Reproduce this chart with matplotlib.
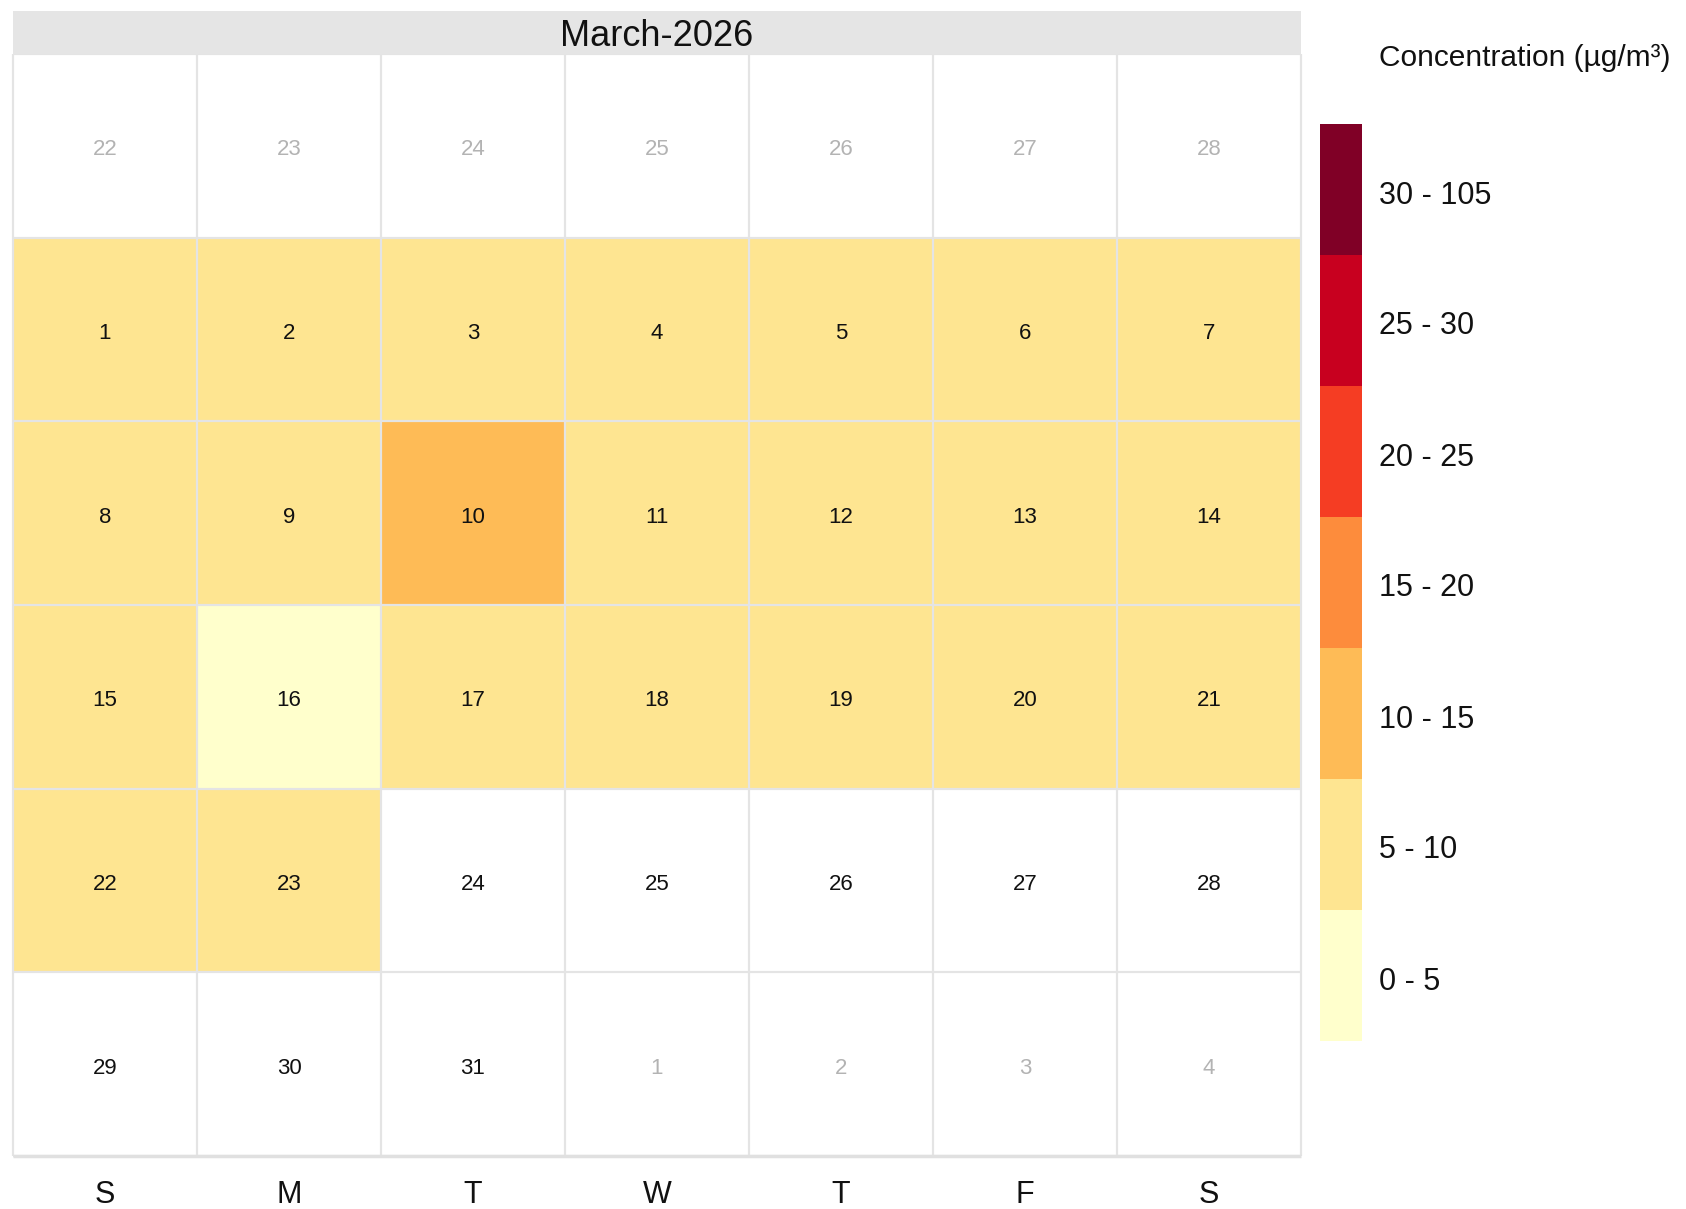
import numpy as np
import matplotlib.pyplot as plt
from matplotlib.colors import ListedColormap, BoundaryNorm
import datetime as dt

plt.rcParams['font.family'] = ['Liberation Sans', 'DejaVu Sans']

# daily mean concentration, March 2026 (nan = no data)
march_conc = [7.4, 6.8, 8.1, 7.6, 6.9, 8.3, 7.2,
              6.5, 7.9, 12.4, 8.8, 7.1, 6.6, 8.5,
              7.7, 3.9, 6.2, 8.0, 7.3, 6.9, 8.6,
              7.5, 6.4, np.nan, np.nan, np.nan, np.nan, np.nan,
              np.nan, np.nan, np.nan]
bin_edges = [0, 5, 10, 15, 20, 25, 30, 105]
bin_labels = ['0 - 5', '5 - 10', '10 - 15', '15 - 20', '20 - 25', '25 - 30', '30 - 105']
bin_colors = ['#ffffcc', '#fee591', '#febb56', '#fd8c3c', '#f53d23', '#c8001f', '#800026']
weekday_labels = ['S', 'M', 'T', 'W', 'T', 'F', 'S']
title = 'March-2026'
legend_title = 'Concentration (µg/m³)'

cmap = ListedColormap(bin_colors)
norm = BoundaryNorm(bin_edges, cmap.N)

# calendar grid: 6 weeks, always with at least one day of the previous month
month_start = dt.date(2026, 3, 1)
lead = (month_start.weekday() + 1) % 7
if lead == 0:
    lead = 7
grid_start = month_start - dt.timedelta(days=lead)
Z = np.full((6, 7), np.nan)
cells = []
for i in range(42):
    d = grid_start + dt.timedelta(days=i)
    r, c = divmod(i, 7)
    in_month = d.month == 3
    if in_month:
        Z[r, c] = march_conc[d.day - 1]
    cells.append((r, c, d.day, in_month))

W, H = 1686, 1209
fig = plt.figure(figsize=(W / 100, H / 100), dpi=100)

# calendar
x0, x1, y0, y1 = 13, 1301, 54, 1156
row_h = (y1 - y0) / 6
ax = fig.add_axes([x0 / W, 1 - y1 / H, (x1 - x0) / W, (y1 - y0) / H])
ax.pcolormesh(np.arange(8), np.arange(7), np.ma.masked_invalid(Z), cmap=cmap, norm=norm)
ax.set_xlim(0, 7)
ax.set_ylim(6, 0)
ax.vlines(np.arange(8), 0, 6, color='#e4e4e4', lw=1.6, clip_on=False)
ax.hlines(np.arange(7), 0, 7, color='#e4e4e4', lw=1.6, clip_on=False)
ax.hlines(6, 0, 7, color='#e0e0e0', lw=2.5, clip_on=False)
for r, c, day, in_month in cells:
    ax.text(c + 0.5, r + 0.5 + 4 / row_h, str(day), ha='center', va='center', fontsize=16,
            color='#111111' if in_month else '#b3b3b3')
for c, lab in enumerate(weekday_labels):
    ax.text(c + 0.5, 6 + 39 / row_h, lab, ha='center', va='center', fontsize=22, color='#111111')
ax.axis('off')

# title strip
ax_t = fig.add_axes([x0 / W, 1 - y0 / H, (x1 - x0) / W, 43 / H])
ax_t.set_facecolor('#e5e5e5')
ax_t.set_xticks([])
ax_t.set_yticks([])
for s in ax_t.spines.values():
    s.set_visible(False)
ax_t.text(0.5, 0.40, title, ha='center', va='center', fontsize=26, color='#111111',
          transform=ax_t.transAxes)

# legend bar
lx0, lx1, ly0, ly1 = 1320, 1362, 124, 1041
ax_l = fig.add_axes([lx0 / W, 1 - ly1 / H, (lx1 - lx0) / W, (ly1 - ly0) / H])
ax_l.pcolormesh([0, 1], np.arange(len(bin_colors) + 1),
                np.array([(bin_edges[k] + bin_edges[k + 1]) / 2 for k in range(len(bin_colors))])[:, None],
                cmap=cmap, norm=norm)
ax_l.set_xlim(0, 1)
ax_l.set_ylim(0, len(bin_colors))
ax_l.axis('off')
step = (ly1 - ly0) / len(bin_colors)
for k, lab in enumerate(bin_labels):
    ax_l.text(1 + 17 / (lx1 - lx0), k + 0.5 - 6 / step, lab, ha='left', va='center', fontsize=22,
              color='#111111')
fig.text(1379 / W, 1 - 58 / H, legend_title, ha='left', va='center', fontsize=21.5, color='#111111')

fig.savefig('out.png', dpi=100)
